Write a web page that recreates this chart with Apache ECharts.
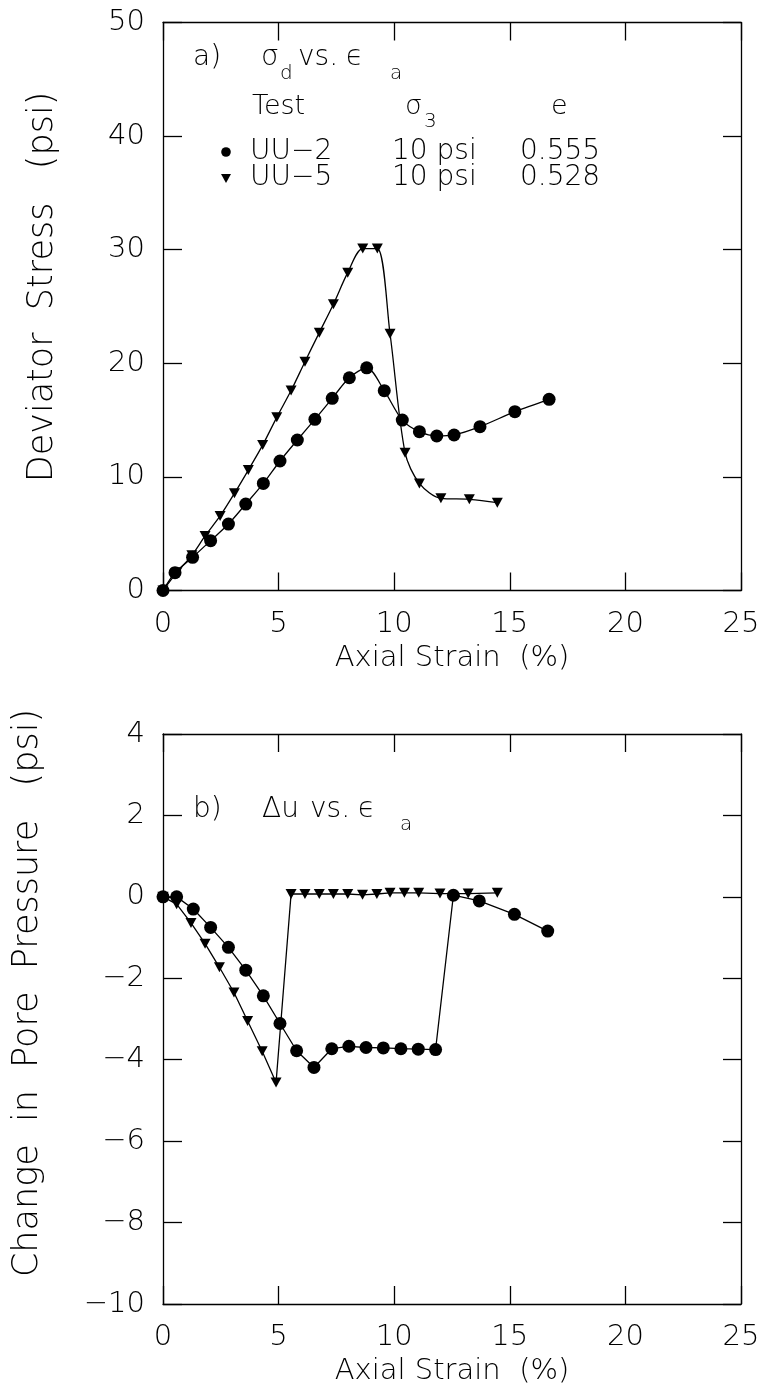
<!DOCTYPE html>
<html>
<head>
<meta charset="utf-8">
<script src="https://cdn.jsdelivr.net/npm/echarts@6/dist/echarts.min.js"></script>
<style>
html,body{margin:0;padding:0;background:#fff;}
#c{width:763px;height:1397px;}
</style>
</head>
<body>
<div id="c"></div>
<script>
// ---- data ----
var strainUU2a = [0, 0.52, 1.28, 2.06, 2.83, 3.58, 4.34, 5.06, 5.81, 6.57, 7.32, 8.06, 8.81, 9.57, 10.35, 11.09, 11.84, 12.59, 13.71, 15.22, 16.7];
var stressUU2  = [0, 1.57, 2.92, 4.39, 5.85, 7.61, 9.43, 11.4, 13.25, 15.07, 16.92, 18.73, 19.6, 17.59, 15.0, 13.98, 13.6, 13.69, 14.42, 15.74, 16.83];
var strainUU5a = [0, 0.6, 1.25, 1.82, 2.47, 3.09, 3.69, 4.31, 4.92, 5.54, 6.14, 6.76, 7.37, 7.99, 8.64, 9.27, 9.82, 10.47, 11.09, 12.02, 13.25, 14.46];
var stressUU5  = [0, 1.6, 3.1, 4.8, 6.56, 8.55, 10.6, 12.8, 15.24, 17.6, 20.14, 22.7, 25.2, 27.98, 30.1, 30.1, 22.6, 12.13, 9.43, 8.11, 8.03, 7.73];

var strainUU2b = [0, 0.59, 1.31, 2.06, 2.83, 3.58, 4.34, 5.06, 5.78, 6.53, 7.3, 8.04, 8.78, 9.53, 10.29, 11.04, 11.79, 12.56, 13.68, 15.2, 16.64];
var poreUU2    = [0, 0, -0.30, -0.75, -1.24, -1.80, -2.43, -3.11, -3.78, -4.19, -3.73, -3.67, -3.70, -3.71, -3.73, -3.74, -3.75, 0.04, -0.1, -0.43, -0.84];
var strainUU5b = [0, 0.59, 1.21, 1.82, 2.44, 3.07, 3.66, 4.29, 4.89, 5.54, 6.14, 6.76, 7.37, 7.99, 8.63, 9.25, 9.82, 10.44, 11.06, 11.98, 13.2, 14.46];
var poreUU5    = [0, -0.18, -0.64, -1.15, -1.73, -2.35, -3.05, -3.79, -4.56, 0.07, 0.07, 0.07, 0.07, 0.07, 0.05, 0.07, 0.1, 0.1, 0.1, 0.08, 0.08, 0.1];

var legendTests  = ['UU\u22122', 'UU\u22125'];
var legendSigma3 = ['10 psi', '10 psi'];
var legendE      = ['0.555', '0.528'];

var xTitle = 'Axial Strain  (%)';
var yTitleA = 'Deviator  Stress   (psi)';
var yTitleB = 'Change  in  Pore  Pressure   (psi)';

function pairs(xs, ys){ return xs.map(function(x,i){ return [x, ys[i]]; }); }

var FONT = 'DejaVu Sans';
var TXT = {color:'#000', fontFamily: FONT, fontSize: 29, fontWeight: 200};
function fmt(v){ return v < 0 ? '\u2212' + Math.abs(v) : String(v); }

function mainX(grid){
  return {gridIndex:grid, type:'value', min:0, max:25, interval:5, position:'bottom',
    axisLine:{show:true, onZero:false, lineStyle:{color:'#000', width:1.3}},
    axisTick:{show:true, inside:true, length:18, lineStyle:{color:'#000', width:1.3}},
    axisLabel:Object.assign({margin:19}, TXT),
    splitLine:{show:false},
    name:xTitle, nameLocation:'middle', nameGap:53, nameTextStyle:Object.assign({}, TXT, {fontSize:29})};
}
function secX(grid){
  return {gridIndex:grid, type:'value', min:0, max:25, interval:5, position:'top',
    axisLine:{show:true, onZero:false, lineStyle:{color:'#000', width:1.3}},
    axisTick:{show:true, inside:true, length:18, lineStyle:{color:'#000', width:1.3}},
    axisLabel:{show:false}, splitLine:{show:false}};
}
function mainY(grid, min, max, iv){
  return {gridIndex:grid, type:'value', min:min, max:max, interval:iv, position:'left',
    axisLine:{show:true, onZero:false, lineStyle:{color:'#000', width:1.3}},
    axisTick:{show:true, inside:true, length:19, lineStyle:{color:'#000', width:1.3}},
    axisLabel:Object.assign({margin:18, formatter:fmt}, TXT),
    splitLine:{show:false}};
}
function secY(grid, min, max, iv){
  return {gridIndex:grid, type:'value', min:min, max:max, interval:iv, position:'right',
    axisLine:{show:true, onZero:false, lineStyle:{color:'#000', width:1.3}},
    axisTick:{show:true, inside:true, length:18, lineStyle:{color:'#000', width:1.3}},
    axisLabel:{show:false}, splitLine:{show:false}};
}
function circleSeries(xi, yi, data, smooth){
  return {type:'line', xAxisIndex:xi, yAxisIndex:yi, data:data, smooth:smooth,
    symbol:'circle', symbolSize:13, showSymbol:true,
    lineStyle:{color:'#000', width:1.3}, itemStyle:{color:'#000', borderWidth:0},
    animation:false, z:3};
}
function triSeries(xi, yi, data, smooth){
  return {type:'line', xAxisIndex:xi, yAxisIndex:yi, data:data, smooth:smooth,
    symbol:'triangle', symbolRotate:180, symbolSize:[11,10], showSymbol:true,
    lineStyle:{color:'#000', width:1.3}, itemStyle:{color:'#000', borderWidth:0},
    animation:false, z:3};
}

var g = [];
function T(x, y, s, size){ g.push({type:'text', x:x, y:y, style:{text:s, fill:'#000', fontFamily:FONT, fontWeight:200, fontSize:size, verticalAlign:'middle', align:'left'}, z:10}); }
// y-axis titles (rotated)
function R(x, y, s, size){ g.push({type:'text', x:x, y:y, rotation:Math.PI/2, style:{text:s, fill:'#000', fontFamily:FONT, fontWeight:200, fontSize:size, verticalAlign:'middle', align:'center'}, z:10}); }
R(43, 287, yTitleA, 35);
R(28, 993, yTitleB, 35);
// panel a annotation
T(193, 58, 'a)', 28);
T(261, 58, '\u03C3', 28); T(280, 74, 'd', 20);
T(298, 58, 'vs.', 28);
T(346, 58, '\u03F5', 28); T(390, 74, 'a', 20);
T(252, 107, 'Test', 27);
T(405, 107, '\u03C3', 27); T(424, 122, '3', 20);
T(551, 107, 'e', 27);
[152, 178].forEach(function(y, i){
  T(250, y, legendTests[i], 28);
  T(392, y, legendSigma3[i], 28);
  T(520, y, legendE[i], 28);
});
g.push({type:'circle', shape:{cx:226, cy:152, r:4.8}, style:{fill:'#000'}, z:10});
g.push({type:'polygon', shape:{points:[[221,174],[231,174],[226,183]]}, style:{fill:'#000'}, z:10});
// panel b annotation
T(193, 810, 'b)', 28);
T(262, 810, '\u0394u', 28);
T(310, 810, 'vs.', 28);
T(358, 810, '\u03F5', 28); T(400, 825, 'a', 20);

var option = {
  backgroundColor:'#fff',
  animation:false,
  grid:[
    {left:163, top:22.5, width:578, height:568},
    {left:163, top:734, width:578, height:570}
  ],
  xAxis:[mainX(0), secX(0), mainX(1), secX(1)],
  yAxis:[
    mainY(0, 0, 50, 10), secY(0, 0, 50, 10),
    mainY(1, -10, 4, 2), secY(1, -10, 4, 2)
  ],
  series:[
    circleSeries(0, 0, pairs(strainUU2a, stressUU2), 0.3),
    triSeries(0, 0, pairs(strainUU5a, stressUU5), 0.3),
    circleSeries(2, 2, pairs(strainUU2b, poreUU2), false),
    triSeries(2, 2, pairs(strainUU5b, poreUU5), false)
  ],
  graphic:g
};
var chart = echarts.init(document.getElementById('c'), null, {renderer:'canvas'});
chart.setOption(option);
</script>
</body>
</html>
